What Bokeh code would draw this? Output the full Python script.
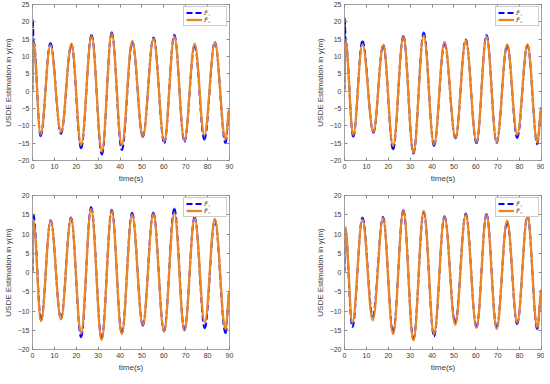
import numpy as np
from bokeh.plotting import figure
from bokeh.layouts import column, row
from bokeh.models import LinearAxis, FixedTicker, Range1d, Legend, LegendItem
from bokeh.embed import file_html
from bokeh.resources import INLINE

# ---------------- data (extrema) ----------------
x_ticks = [0, 10, 20, 30, 40, 50, 60, 70, 80, 90]
y_ticks_top = [-20, -15, -10, -5, 0, 5, 10, 15, 20, 25]
y_ticks_bottom = [-20, -15, -10, -5, 0, 5, 10, 15, 20]

# top-left
tA_f2 = [0, 0.4, 3.7, 8.2, 13.0, 17.8, 22.2, 27.0, 31.7, 36.2, 40.8, 45.6, 50.4, 55.3, 60.2, 64.8, 69.4, 74.1, 78.5, 83.3, 88.2, 90]
yA_f2 = [0, 14.2, -12.5, 13.3, -11.8, 13.7, -15.6, 15.9, -17.4, 16.6, -15.6, 14.5, -13.0, 15.1, -14.4, 15.7, -14.3, 13.7, -12.7, 14.0, -13.9, -5.0]
tA_f1 = [0, 0.15, 0.5, 3.7, 8.2, 13.0, 17.8, 22.2, 27.0, 31.7, 36.2, 40.8, 45.6, 50.4, 55.3, 60.2, 64.8, 69.4, 74.1, 78.5, 83.3, 88.2, 90]
yA_f1 = [0, 20.5, 14.5, -13.0, 13.9, -12.3, 13.5, -16.5, 16.3, -18.3, 17.0, -17.0, 14.2, -13.2, 15.5, -15.0, 16.3, -14.6, 13.3, -14.0, 14.2, -15.0, -5.0]

# top-right
tB_f2 = [0, 0.4, 4.0, 8.2, 13.2, 17.7, 22.2, 26.9, 31.5, 36.2, 40.9, 45.7, 50.7, 55.4, 60.3, 64.9, 69.5, 74.3, 78.9, 83.6, 88.1, 90]
yB_f2 = [0, 14.5, -12.6, 13.5, -11.8, 13.3, -15.8, 15.7, -17.7, 16.1, -15.4, 14.2, -13.4, 14.6, -14.7, 15.7, -14.7, 13.5, -12.6, 13.5, -14.7, -4.8]
tB_f1 = [0, 0.15, 0.5, 4.0, 8.2, 13.2, 17.7, 22.2, 26.9, 31.5, 36.2, 40.9, 45.7, 50.7, 55.4, 60.3, 64.9, 69.5, 74.3, 78.9, 83.6, 88.1, 90]
yB_f1 = [0, 21.0, 14.5, -13.2, 14.5, -12.0, 13.4, -16.8, 15.9, -18.0, 16.9, -15.8, 13.8, -13.6, 14.9, -15.0, 16.2, -14.9, 13.3, -13.5, 13.4, -15.3, -4.8]

# bottom-left
tC_f2 = [0, 0.4, 3.9, 8.3, 13.0, 17.6, 22.2, 26.8, 31.6, 36.2, 40.8, 45.5, 50.4, 55.2, 60.1, 64.8, 69.4, 74.1, 78.7, 83.3, 88.2, 90]
yC_f2 = [0, 13.5, -12.6, 13.5, -12.2, 14.1, -15.8, 16.5, -17.5, 16.0, -16.0, 15.0, -13.6, 15.2, -15.3, 15.4, -15.1, 14.1, -13.0, 13.9, -14.7, -4.8]
tC_f1 = tC_f2
yC_f1 = [0, 15.0, -12.4, 13.6, -12.0, 14.3, -16.8, 17.0, -17.2, 16.3, -15.8, 15.5, -13.8, 15.6, -15.3, 16.6, -15.0, 14.5, -14.5, 13.6, -15.8, -4.8]

# bottom-right
tD_f2 = [0, 0.3, 3.6, 8.2, 12.9, 17.6, 22.2, 26.9, 31.5, 36.2, 40.9, 45.7, 50.6, 55.4, 60.3, 64.9, 69.5, 74.3, 78.9, 83.6, 88.1, 90]
yD_f2 = [0, 11.8, -13.0, 13.7, -12.4, 14.1, -16.0, 16.0, -17.6, 16.0, -16.0, 14.5, -13.6, 15.0, -14.4, 15.0, -14.7, 13.5, -13.0, 14.5, -14.3, -4.6]
tD_f1 = tD_f2
yD_f1 = [0, 11.5, -14.2, 14.3, -11.5, 14.4, -15.6, 16.2, -17.4, 15.8, -16.6, 14.6, -13.2, 15.3, -14.3, 15.2, -14.4, 13.2, -13.4, 14.8, -14.8, -4.6]

labels = ["F\u0302\u2081", "F\u0302\u2082"]
x_label = "time(s)"
y_label = "USDE Estimation in y(m)"

# ---------------- styling ----------------
BLUE = "#0000FF"
ORANGE = "#EC8624"
AXIS = "#8a8a8a"
TXT = "#3a3a3a"
FONT = "Liberation Sans"
K = 0.3634  # cubic bezier control offset approximating a half-cosine


def bez(p, t, y, **kw):
    t = np.asarray(t, float)
    y = np.asarray(y, float)
    t0, t1, y0, y1 = t[:-1], t[1:], y[:-1], y[1:]
    dt = t1 - t0
    return p.bezier(x0=t0, y0=y0, x1=t1, y1=y1,
                    cx0=t0 + K * dt, cy0=y0, cx1=t1 - K * dt, cy1=y1, **kw)


def minus(v):
    return str(v).replace("-", "\u2212")


def make(ymin, ymax, yticks, t1, y1, t2, y2, bl, br, bt, bb, fh):
    p = figure(frame_width=197, frame_height=fh,
               x_range=Range1d(0, 90), y_range=Range1d(ymin, ymax),
               output_backend="svg", toolbar_location=None,
               min_border_left=bl, min_border_right=br,
               min_border_top=bt, min_border_bottom=bb,
               background_fill_color="white", border_fill_color="white")
    p.outline_line_color = None
    p.xgrid.visible = False
    p.ygrid.visible = False
    p.add_layout(LinearAxis(), "above")
    p.add_layout(LinearAxis(), "right")
    for ax in p.xaxis:
        ax.ticker = FixedTicker(ticks=x_ticks)
    for ax in p.yaxis:
        ax.ticker = FixedTicker(ticks=yticks)
    for ax in p.axis:
        ax.axis_line_color = AXIS
        ax.axis_line_width = 0.8
        ax.major_tick_line_color = AXIS
        ax.major_tick_in = 3
        ax.major_tick_out = 0
        ax.minor_tick_line_color = None
        ax.major_label_text_font = FONT
        ax.major_label_text_font_size = "7px"
        ax.major_label_text_color = TXT
        ax.major_label_standoff = 3
    p.left[0].major_label_overrides = {v: minus(v) for v in yticks}
    for ax in (p.above[0], p.right[0]):
        ax.major_label_text_color = None
        ax.major_label_text_font_size = "2px"
        ax.major_label_standoff = 0
    p.below[0].axis_label = x_label
    p.left[0].axis_label = y_label
    for ax in (p.below[0], p.left[0]):
        ax.axis_label_text_font = FONT
        ax.axis_label_text_font_size = "8px"
        ax.axis_label_text_font_style = "normal"
        ax.axis_label_text_color = TXT
        ax.axis_label_standoff = 2

    r1 = bez(p, t1, y1, line_color=BLUE, line_width=2, line_dash="6 3")
    r2 = bez(p, t2, y2, line_color=ORANGE, line_width=2.3)
    leg = Legend(items=[LegendItem(label=labels[0], renderers=[r1], index=0),
                        LegendItem(label=labels[1], renderers=[r2], index=0)],
                 location="top_right")
    leg.label_text_font = "Liberation Serif"
    leg.label_text_font_style = "italic"
    leg.label_text_font_size = "6.5px"
    leg.label_text_color = TXT
    leg.label_standoff = 2
    leg.label_height = 5
    leg.glyph_height = 5
    leg.glyph_width = 16
    leg.spacing = 0
    leg.padding = 2
    leg.margin = 2
    leg.border_line_color = "#9a9a9a"
    leg.border_line_width = 0.7
    leg.background_fill_alpha = 1
    p.add_layout(leg)
    return p


pA = make(-20, 25, y_ticks_top, tA_f1, yA_f1, tA_f2, yA_f2, 22, 48, 4, 22, 156)
pB = make(-20, 25, y_ticks_top, tB_f1, yB_f1, tB_f2, yB_f2, 67, 3, 4, 22, 156)
pC = make(-20, 20, y_ticks_bottom, tC_f1, yC_f1, tC_f2, yC_f2, 22, 48, 10, 22, 154)
pD = make(-20, 20, y_ticks_bottom, tD_f1, yD_f1, tD_f2, yD_f2, 67, 3, 10, 22, 154)

layout = column(row(pA, pB), row(pC, pD))
open("out.html", "w").write(file_html(layout, INLINE))
